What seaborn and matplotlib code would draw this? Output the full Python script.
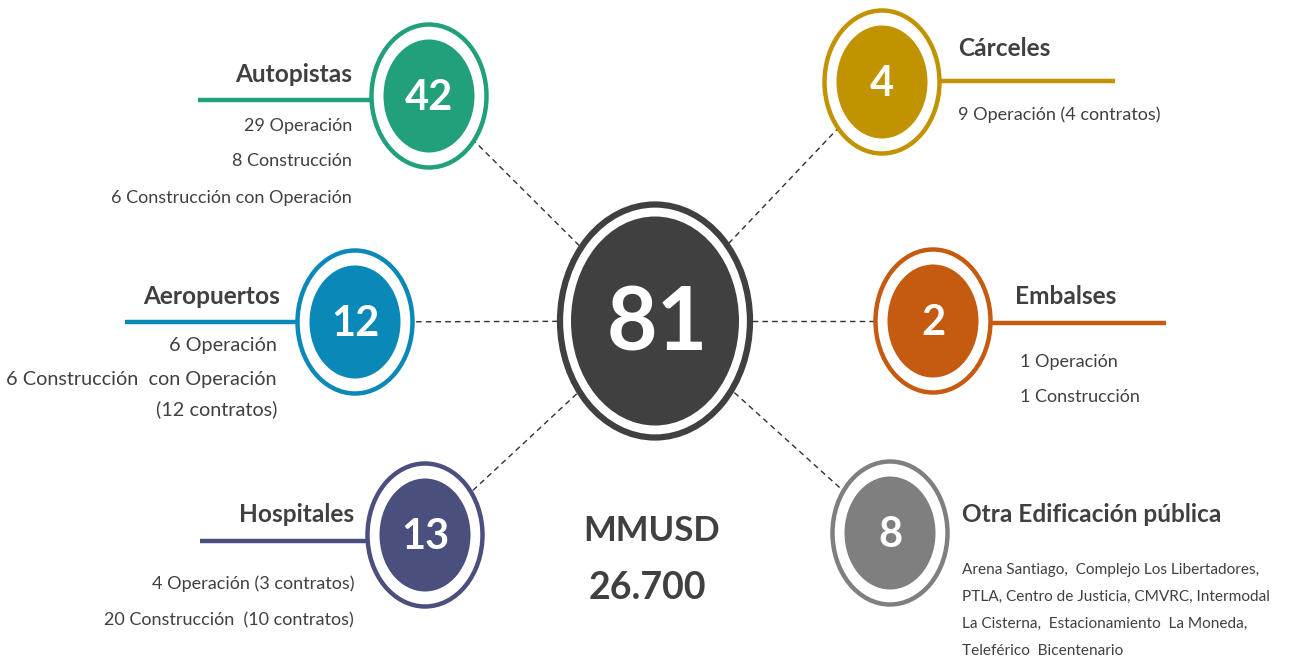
import matplotlib
matplotlib.use("Agg")
import matplotlib.pyplot as plt
from matplotlib.patches import Ellipse
import seaborn as sns

# ---------------------------------------------------------------------------
# Data
# ---------------------------------------------------------------------------

categories = ["Autopistas", "Aeropuertos", "Hospitales",
              "Cárceles", "Embalses", "Otra Edificación pública"]
totals = [42, 12, 13, 4, 2, 8]
details = [
    ["29 Operación", "8 Construcción", "6 Construcción con Operación"],
    ["6 Operación", "6 Construcción  con Operación", "(12 contratos)"],
    ["4 Operación (3 contratos)", "20 Construcción  (10 contratos)"],
    ["9 Operación (4 contratos)"],
    ["1 Operación", "1 Construcción"],
    ["Arena Santiago,  Complejo Los Libertadores,",
     "PTLA, Centro de Justicia, CMVRC, Intermodal",
     "La Cisterna,  Estacionamiento  La Moneda,",
     "Teleférico  Bicentenario"],
]
total_projects = 81
amount_unit = "MMUSD"
amount_value = "26.700"

# ---------------------------------------------------------------------------
# Layout / style (pixel coordinates, y down)
# ---------------------------------------------------------------------------

colors = ["#22A07B", "#0A88B7", "#4B4F7E", "#C29300", "#C55A11", "#7F7F7F"]
center_color = "#404040"
text_color = "#404040"

node_x = [429, 355, 425, 882, 933, 890]
node_y = [96, 322, 535, 82, 321, 533]
side = ["left", "left", "left", "right", "right", "right"]
line_end = [198, 125, 200, 1115, 1166, None]
line_y = [100, 322, 541, 81, 323, None]
title_xy = [(352, 74), (280, 296), (354, 515), (958, 49), (1015, 297), (962, 515)]
detail_x = [352, 277, 354, 958, 1020, 962]
detail_y = [[126, 161, 198], [346, 379, 409], [584, 620], [115],
            [362, 397], [570, 597, 624, 651]]
detail_size = [13, 14.3, 13, 13, 13, 11.1]

CX, CY = 655, 321
RING_W, RING_H = 115, 143
FILL_W, FILL_H = 91, 113
C_RING_W, C_RING_H = 190, 233
C_FILL_W, C_FILL_H = 168, 209

sns.set_theme(style="white")
plt.rcParams["font.family"] = ["Lato", "DejaVu Sans"]

fig = plt.figure(figsize=(12.92, 6.62), dpi=100)
ax = fig.add_axes([0, 0, 1, 1])
ax.set_xlim(0, 1292)
ax.set_ylim(662, 0)
ax.axis("off")

# connectors from the hub to each category
for x, y in zip(node_x, node_y):
    ax.plot([CX, x], [CY, y], color="#303030", lw=1.0,
            ls=(0, (4, 3)), zorder=1)

# centre node
ax.add_patch(Ellipse((CX, CY), C_RING_W, C_RING_H, facecolor="white",
                     edgecolor=center_color, lw=4.5, zorder=3))
ax.add_patch(Ellipse((CX, CY), C_FILL_W, C_FILL_H, facecolor=center_color,
                     edgecolor="none", zorder=4))
ax.text(CX + 2, CY + 4, str(total_projects), color="white", fontsize=63,
        fontweight="bold", ha="center", va="center", zorder=5)

ax.text(652, 531, amount_unit, color=text_color, fontsize=25,
        fontweight="bold", ha="center", va="center")
ax.text(647, 588, amount_value, color=text_color, fontsize=27,
        fontweight="bold", ha="center", va="center")

for i, cat in enumerate(categories):
    x, y, col = node_x[i], node_y[i], colors[i]

    if line_end[i] is not None:
        ax.plot([x, line_end[i]], [line_y[i], line_y[i]], color=col,
                lw=3.2, solid_capstyle="butt", zorder=2)

    ax.add_patch(Ellipse((x, y), RING_W, RING_H, facecolor="white",
                         edgecolor=col, lw=3.2, zorder=3))
    ax.add_patch(Ellipse((x, y), FILL_W, FILL_H, facecolor=col,
                         edgecolor="none", zorder=4))
    ax.text(x, y + 2, str(totals[i]), color="white", fontsize=30,
            fontweight="bold", ha="center", va="center", zorder=5)

    ha = "right" if side[i] == "left" else "left"
    tx, ty = title_xy[i]
    ax.text(tx, ty, cat, color=text_color, fontsize=17.6, fontweight="bold",
            ha=ha, va="center")
    for line, dy in zip(details[i], detail_y[i]):
        ax.text(detail_x[i], dy, line, color=text_color,
                fontsize=detail_size[i], ha=ha, va="center")

fig.savefig("out.png", dpi=100, facecolor="white")
